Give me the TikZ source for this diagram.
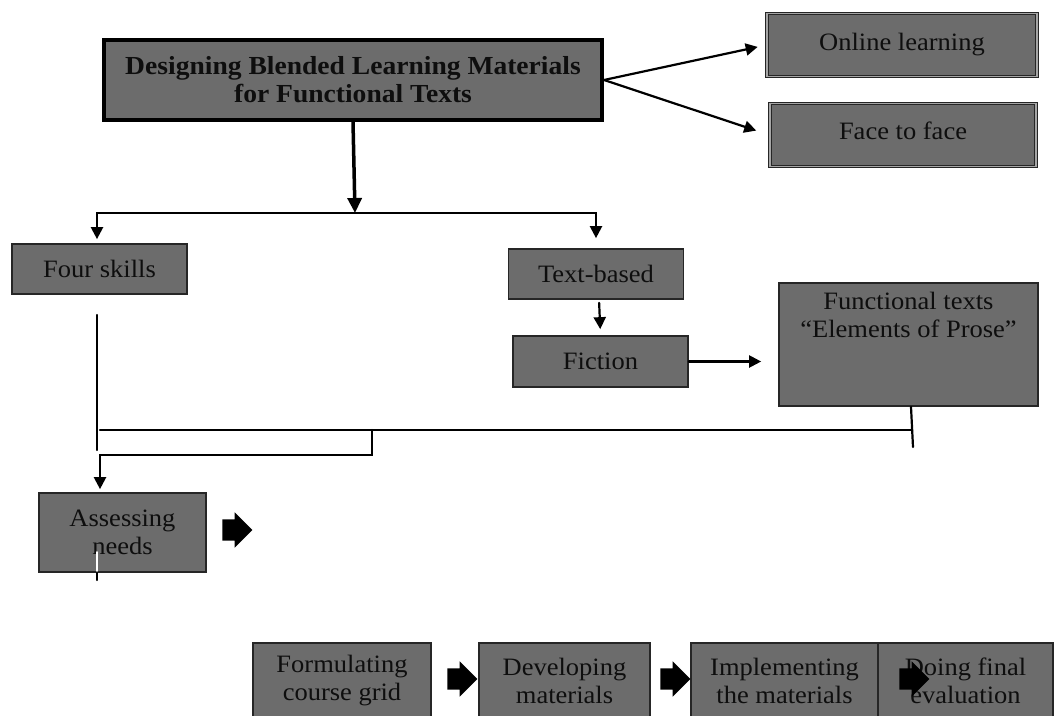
\documentclass[tikz,border=0pt]{standalone}
\usepackage{fontspec}
\setmainfont{Liberation Serif}[FakeStretch=1.06]
\usetikzlibrary{arrows.meta,shapes.arrows}
\definecolor{boxgray}{RGB}{108,108,108}
\definecolor{inkgray}{RGB}{14,14,14}

\begin{document}
\begin{tikzpicture}[x=1pt,y=-1pt,>={Triangle[length=12pt,width=12pt]},line cap=round,
  font=\fontsize{25}{28}\selectfont,
  box/.style={draw=black!85,line width=1.7pt,fill=boxgray,text=inkgray,align=center,inner sep=0pt},
  dblbox/.style={box,draw=black!85,line width=1pt,double=black!35,double distance=1.6pt},
  link/.style={black,line width=2.2pt},
  blockarrow/.style={single arrow,fill=black,draw=none,inner xsep=0pt,inner ysep=10.5pt,
    minimum height=30pt,single arrow head extend=7pt}]
\useasboundingbox (0,0) rectangle (1055,715);
\clip (0,0) rectangle (1055,715);
\fill[white] (0,0) rectangle (1055,715);

% top part
\node[box,draw=black,line width=4pt,minimum width=498,minimum height=80,font=\fontsize{26}{28}\selectfont\bfseries] (title) at (353,80) {Designing Blended Learning Materials\\for Functional Texts};
\node[dblbox,minimum width=270,minimum height=63] (online) at (902,45) {Online learning};
\node[dblbox,minimum width=266,minimum height=63,text depth=8pt] (face) at (903,135) {Face to face};
\draw[link,->,shorten >=9pt] (title.east) -- (online.west);
\draw[link,->,shorten >=14pt] (title.east) -- (face.west);

% first split
\coordinate (split) at (355,213);
\draw[black,line width=3.5pt,->,>={Triangle[length=15pt,width=14pt]}] (title.south) -- (split);
\node[box,minimum width=175,minimum height=50] (four) at (99.5,269) {Four skills};
\node[box,minimum width=175,minimum height=50] (textbased) at (596,274) {Text-based};
\draw[link,->,shorten >=4pt] (split) -| ([xshift=-2.5pt]four.north);
\draw[link,->,shorten >=10pt] (split) -| (textbased.north);

\node[box,minimum width=175,minimum height=51] (fiction) at (600.5,361.5) {Fiction};
\node[box,minimum width=259,minimum height=123,
  label={[anchor=north,align=center,text=inkgray,yshift=-6pt]north:Functional texts\\“Elements of Prose”}] (functional) at (908.5,344.5) {};
\draw[link,->,shorten <=3pt,shorten >=6pt] (textbased.south) ++(3,0) -- (fiction.north);
\draw[link,->,shorten >=17pt] (fiction.east) -- (fiction.east -| functional.west);

% joining lines
\coordinate (fourend) at (97,450);
\coordinate (funcend) at (913,447);
\coordinate (barleft) at (100,430);
\coordinate (barright) at (912,430);
\coordinate (bend) at (372,430);
\coordinate (hook) at (100,455);
\draw[link,shorten <=20pt] ([xshift=-2.5pt]four.south) -- (fourend);
\draw[link] ([xshift=2.5pt]functional.south) -- (funcend);
\draw[link] (barleft) -- (barright);

\node[box,minimum width=167,minimum height=79] (assess) at (122.5,532.5) {Assessing\\needs};
\draw[link,->,shorten >=3pt] (bend) |- (hook) -- (assess.north -| hook);
\node[blockarrow] (step1) at (232,530) {};
\draw[white,line width=1.8pt] (97,552) -- (97,571);
\draw[link] (97,573) -- (97,580);

% bottom row
\node[box,minimum width=178,minimum height=76] (grid) at (342,681) {Formulating\\course grid};
\node[box,minimum width=171,minimum height=76] (develop) at (564.5,681) {Developing\\materials};
\node[box,minimum width=187,minimum height=76] (implement) at (784.5,681) {Implementing\\the materials};
\node[box,minimum width=175,minimum height=76] (evaluate) at (965.5,681) {Doing final\\evaluation};
\node[blockarrow] (step2) at (457,679) {};
\node[blockarrow] (step3) at (670,679) {};
\node[blockarrow] (step4) at (909,679) {};
\end{tikzpicture}
\end{document}
